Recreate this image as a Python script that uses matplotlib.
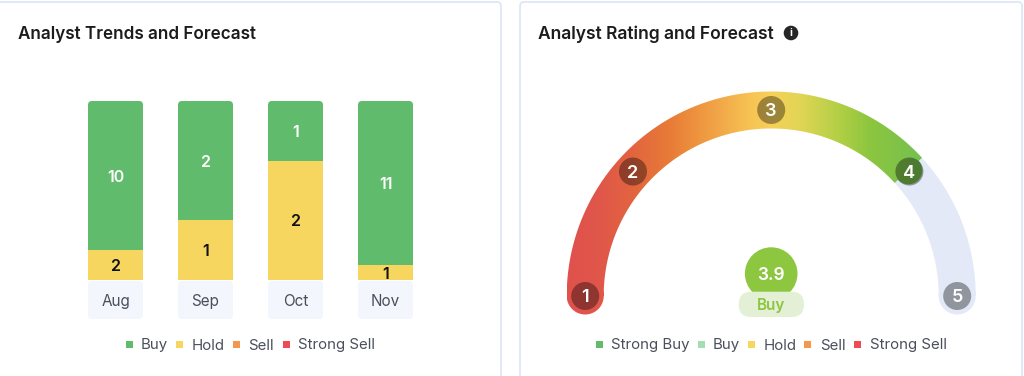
import numpy as np
import matplotlib
matplotlib.use("Agg")
import matplotlib.pyplot as plt
from matplotlib.colors import LinearSegmentedColormap
from matplotlib.patches import Circle, FancyBboxPatch, PathPatch, Rectangle
from matplotlib.path import Path

plt.rcParams["font.family"] = ["Inter", "DejaVu Sans"]

months = ["Aug", "Sep", "Oct", "Nov"]
buy = [10, 2, 1, 11]
hold = [2, 1, 2, 1]

rating_ticks = [1, 2, 3, 4, 5]
rating_angles = [180, 138, 90, 42, 0]  # degrees on the gauge
rating_score = 3.9
rating_label = "Buy"

left_legend = ["Buy", "Hold", "Sell", "Strong Sell"]
left_legend_colors = ["#60bb6c", "#f7d660", "#f2994f", "#ee4c55"]
right_legend = ["Strong Buy", "Buy", "Hold", "Sell", "Strong Sell"]
right_legend_colors = ["#60bb6c", "#a3dcb5", "#f7d660", "#f2994f", "#ee4c55"]

grad_x = [567, 600, 632, 670, 700, 750, 771, 800, 840, 870, 925]
grad_colors = ["#e0514d", "#e0574a", "#e2643f", "#e87c37", "#ee9640", "#f7c354",
               "#f7d05a", "#e2d555", "#b1cf45", "#8dc63f", "#74bf50"]

W, H = 1024, 376
GREEN, YELLOW, LABEL_BG = "#60bb6c", "#f7d660", "#f3f7fd"
BORDER = "#dbe5f5"
INK, MUTED = "#1c1c1f", "#4a4f5c"

fig = plt.figure(figsize=(W / 100, H / 100), dpi=100, facecolor="white")

# overlay in pixel coordinates for cards, gauge and legends
pix = fig.add_axes([0, 0, 1, 1], zorder=1)
pix.set_xlim(0, W)
pix.set_ylim(H, 0)
pix.axis("off")

for x0, x1 in [(-10, 501), (520, 1022)]:
    pix.add_patch(FancyBboxPatch((x0, 2), x1 - x0, 400,
                                 boxstyle="round,pad=0,rounding_size=4",
                                 fc="white", ec=BORDER, lw=1.2))

pix.text(18, 39, "Analyst Trends and Forecast", fontsize=12.3, fontweight="semibold",
         color=INK, va="baseline")
pix.text(538, 39, "Analyst Rating and Forecast", fontsize=12.55, fontweight="semibold",
         color=INK, va="baseline")
pix.add_patch(Circle((791, 33), 7.3, fc="#262626", ec="none"))
pix.text(791, 33, "i", fontsize=7.5, fontweight="bold", color="white", ha="center", va="center")

# bars: 100% stacked, axes spans the coloured part only
left = 70.5
bar_ax = fig.add_axes([left / W, 1 - 280 / H, 360 / W, 179 / H], zorder=2)
bar_ax.set_xlim(-0.5, 3.5)
bar_ax.set_ylim(0, 100)
bar_ax.axis("off")
bar_ax.patch.set_alpha(0)

x = np.arange(len(months))
totals = np.array(buy) + np.array(hold)
hold_pct = np.array(hold) / totals * 100
buy_pct = np.array(buy) / totals * 100
hold_bars = bar_ax.bar(x, hold_pct, width=0.61, color=YELLOW)
buy_bars = bar_ax.bar(x, buy_pct, width=0.61, bottom=hold_pct, color=GREEN)

for i, month in enumerate(months):
    cx = left + (i + 0.5) * 90
    box = FancyBboxPatch((cx - 27.5, 101), 55, 218, boxstyle="round,pad=0,rounding_size=4",
                         fc="none", ec="none")
    pix.add_patch(box)
    buy_bars[i].set_clip_path(box)
    pix.add_patch(FancyBboxPatch((cx - 27.5, 281), 55, 38,
                                 boxstyle="round,pad=0,rounding_size=4", fc=LABEL_BG, ec="none"))
    pix.text(cx, 306, month, fontsize=11, color=MUTED, ha="center", va="baseline")
    bar_ax.text(i, hold_pct[i] / 2, str(hold[i]), fontsize=11.5, fontweight="semibold",
                color="#111111", ha="center", va="center_baseline")
    bar_ax.text(i, hold_pct[i] + buy_pct[i] / 2, str(buy[i]), fontsize=11.5,
                fontweight="semibold", color="white", ha="center", va="center_baseline")


def draw_legend(labels, colors, marker_x, text_x):
    for label, color, mx, tx in zip(labels, colors, marker_x, text_x):
        pix.add_patch(Rectangle((mx, 340.5), 7, 7, fc=color, ec="none"))
        pix.text(tx, 349.5, label, fontsize=10.8, color=MUTED, va="baseline")


draw_legend(left_legend, left_legend_colors, [126, 176, 233, 283], [141, 192, 248, 298])
draw_legend(right_legend, right_legend_colors, [596, 698, 748, 804, 854], [611, 713, 764, 820, 870])

# gauge
cx, cy = 771.2, 296
r_mid, half = 186, 18.5


def polar(angle, r):
    a = np.radians(angle)
    return cx + r * np.cos(a), cy - r * np.sin(a)


def band_path(a0, a1, cap_start=half, cap_end=half):
    # annular band from a0 down to a1, caps are circles of the given radius (0 = flat end)
    angles = np.linspace(a0, a1, 240)
    ox, oy = polar(angles, r_mid + half)
    ix, iy = polar(angles[::-1], r_mid - half)
    t = np.linspace(0, 2 * np.pi, 80)
    parts = [np.column_stack([np.r_[ox, ix], np.r_[oy, iy]])]
    for ang, rad in [(a0, cap_start), (a1, cap_end)]:
        if rad:
            px, py = polar(ang, r_mid)
            parts.append(np.column_stack([px + rad * np.cos(t), py + rad * np.sin(t)]))
    return Path.make_compound_path(*[Path(p, closed=False) for p in parts])


track = PathPatch(band_path(50, 0, cap_start=0), fc="#e3e9f7", ec="none")
pix.add_patch(track)

cmap = LinearSegmentedColormap.from_list(
    "gauge", [((gx - grad_x[0]) / (grad_x[-1] - grad_x[0]), c) for gx, c in zip(grad_x, grad_colors)])
grad = np.linspace(0, 1, 512).reshape(1, -1)
img = pix.imshow(grad, cmap=cmap, extent=(grad_x[0], grad_x[-1], H, 0), aspect="auto", zorder=1.5)
fill_end = np.interp(round(rating_score), rating_ticks, rating_angles) + 0.5
clip = PathPatch(band_path(180, fill_end, cap_end=14), fc="none", ec="none")
pix.add_patch(clip)
img.set_clip_path(clip)
pix.set_xlim(0, W)
pix.set_ylim(H, 0)

for tick, ang in zip(rating_ticks, rating_angles):
    tx, ty = polar(ang, r_mid)
    pix.add_patch(Circle((tx, ty), 14, fc="black", alpha=0.36, ec="none", zorder=3))
    pix.text(tx, ty, str(tick), fontsize=13, fontweight="semibold", color="white",
             ha="center", va="center_baseline", zorder=4)

pix.add_patch(Circle((cx, 273.6), 26.3, fc="#8dc63f", ec="none", zorder=3))
pix.text(cx, 274, f"{rating_score}", fontsize=12.5, fontweight="semibold", color="white",
         ha="center", va="center_baseline", zorder=4)
pix.add_patch(FancyBboxPatch((738.7, 291.7), 65.3, 25.3, boxstyle="round,pad=0,rounding_size=12.6",
                             fc="#e3f0d5", ec="none", zorder=4))
pix.text(cx, 310, rating_label, fontsize=11, fontweight="semibold", color="#8dc63f",
         ha="center", va="baseline", zorder=5)

fig.savefig("out.png", dpi=100)
